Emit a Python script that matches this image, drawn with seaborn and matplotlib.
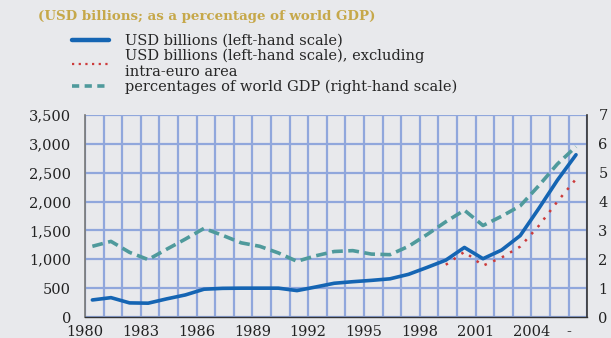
import matplotlib
matplotlib.use("Agg")
import matplotlib.pyplot as plt
import seaborn as sns
import pandas as pd
from matplotlib.lines import Line2D

# ---- data ----
years = list(range(1980, 2007))
usd_billions = [296, 336, 245, 240, 315, 383, 482, 497, 500, 500, 500, 458, 520,
                585, 612, 635, 662, 740, 860, 985, 1205, 1010, 1160, 1410, 1880,
                2370, 2810]
excl_years = list(range(1999, 2007))
usd_excl_euro = [905, 1130, 890, 1030, 1220, 1580, 2000, 2390]
pct_world_gdp = [2.45, 2.62, 2.24, 1.99, 2.35, 2.70, 3.07, 2.83, 2.57, 2.45, 2.22,
                 1.93, 2.12, 2.27, 2.30, 2.18, 2.16, 2.45, 2.86, 3.30, 3.70, 3.17,
                 3.49, 3.85, 4.55, 5.30, 5.90]
left_ticks = [0, 500, 1000, 1500, 2000, 2500, 3000, 3500]
right_ticks = [0, 1, 2, 3, 4, 5, 6, 7]
xtick_labels = {1980: "1980", 1983: "1983", 1986: "1986", 1989: "1989",
                1992: "1992", 1995: "1995", 1998: "1998", 2001: "2001",
                2004: "2004", 2006: "-"}
title = "(USD billions; as a percentage of world GDP)"
legend_labels = ["USD billions (left-hand scale)",
                 "USD billions (left-hand scale), excluding\nintra-euro area",
                 "percentages of world GDP (right-hand scale)"]

# ---- style ----
BG = "#e8e9ec"
GRID = "#90a7dc"
BLUE = "#1565b3"
RED = "#cc3b3b"
TEAL = "#4f9a9c"
TITLE_C = "#c6a84a"
FONT = ["DejaVu Serif"]

sns.set_style("white")
plt.rcParams["font.family"] = FONT

shift = 0.4  # points drawn mid-year
df_main = pd.DataFrame({"x": [y + shift for y in years],
                        "usd": usd_billions, "pct": pct_world_gdp})
df_excl = pd.DataFrame({"x": [y + shift for y in excl_years],
                        "usd": usd_excl_euro})

fig = plt.figure(figsize=(6.11, 3.38), dpi=100, facecolor=BG)
ax = fig.add_axes([0.139, 0.062, 0.822, 0.598])
ax.set_facecolor(BG)
ax2 = ax.twinx()

sns.lineplot(data=df_main, x="x", y="usd", ax=ax, color=BLUE, lw=2.6,
             zorder=4)
sns.lineplot(data=df_excl, x="x", y="usd", ax=ax, color=RED, lw=1.8,
             linestyle=(0, (1, 2.8)), zorder=3)
sns.lineplot(data=df_main, x="x", y="pct", ax=ax2, color=TEAL, lw=2.6,
             linestyle=(0, (3, 1.5)), zorder=3)

ax.set_xlim(1980, 2007)
ax.set_ylim(0, 3500)
ax2.set_ylim(0, 7)

ax.set_xticks(list(range(1980, 2008)))
ax.set_xticklabels([xtick_labels.get(y, "") for y in range(1980, 2008)])
ax.set_yticks(left_ticks)
ax.set_yticklabels([f"{v:,}" for v in left_ticks])
ax2.set_yticks(right_ticks)
ax2.set_yticklabels([str(v) for v in right_ticks])

ax.grid(True, color=GRID, lw=1.6, zorder=0)
ax.set_axisbelow(True)
ax2.grid(False)
ax.set_xlabel("")
ax.set_ylabel("")
ax2.set_ylabel("")

for a in (ax, ax2):
    a.spines["top"].set_visible(False)
ax.spines["left"].set_color("#777777")
ax.spines["left"].set_linewidth(1.2)
ax2.spines["right"].set_color("#333333")
ax2.spines["right"].set_linewidth(1.2)
ax2.spines["left"].set_visible(False)
ax.spines["bottom"].set_color("#333333")
ax.spines["bottom"].set_linewidth(1.0)
ax.spines["right"].set_visible(False)
ax2.spines["bottom"].set_visible(False)

ax.tick_params(axis="x", direction="out", length=4, width=1, color="#222222",
               labelsize=10.5, pad=1.5, labelcolor="#222222")
ax.tick_params(axis="y", length=0, labelsize=10.5, pad=10, labelcolor="#222222")
ax2.tick_params(axis="y", length=0, labelsize=10.5, pad=8, labelcolor="#222222")
for lbl in ax.get_yticklabels() + ax2.get_yticklabels():
    lbl.set_va("center_baseline")

fig.text(0.062, 0.952, title, color=TITLE_C, fontsize=9.6,
         fontweight="bold", va="center", ha="left")

handles = [Line2D([], [], color=BLUE, lw=3.2),
           Line2D([], [], color=RED, lw=1.6, linestyle=(0, (1, 2))),
           Line2D([], [], color=TEAL, lw=2.6, linestyle=(0, (2, 1.5)))]
fig.legend(handles, legend_labels, loc="upper left",
           bbox_to_anchor=(0.118, 0.9), bbox_transform=fig.transFigure,
           frameon=False, handlelength=2.5, handletextpad=1.1,
           labelspacing=0.05, borderpad=0, borderaxespad=0,
           prop={"family": FONT, "size": 10.5})

fig.savefig("out.png", dpi=100, facecolor=BG)
